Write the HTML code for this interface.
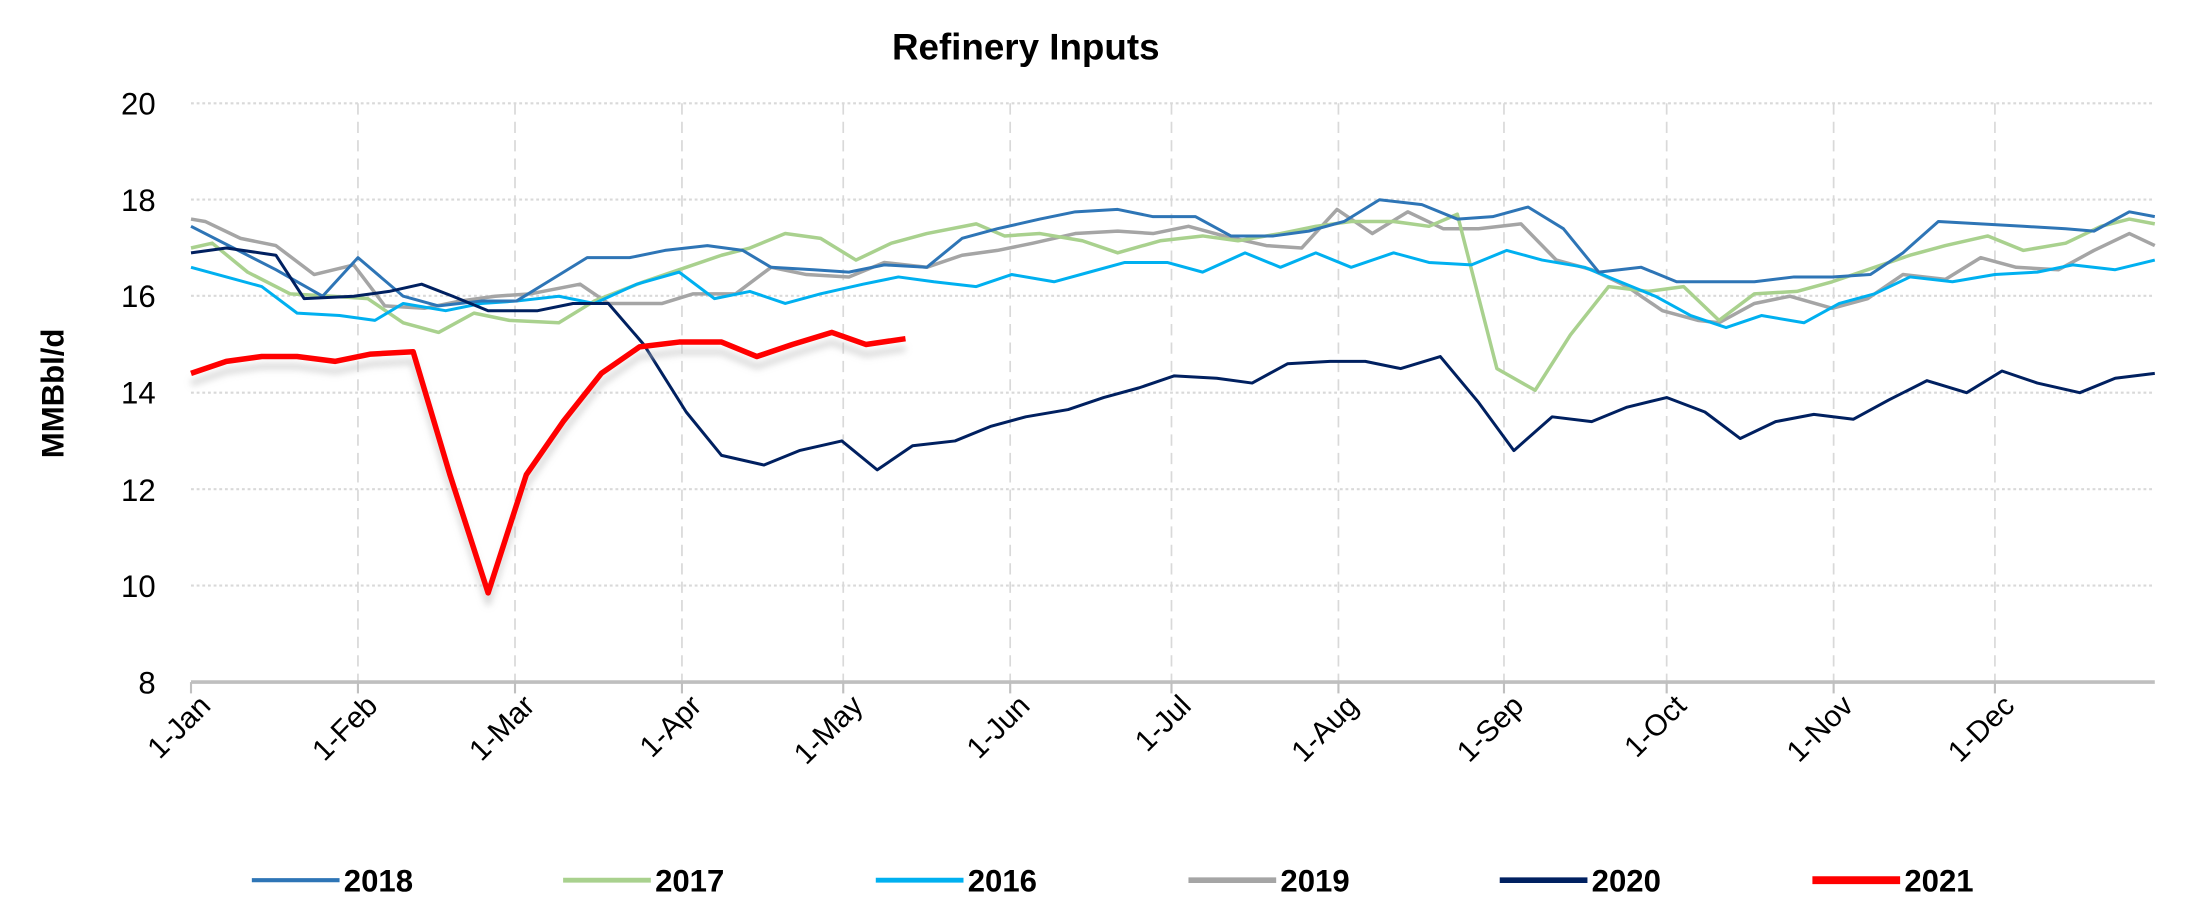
<!DOCTYPE html>
<html><head><meta charset="utf-8"><style>html,body{margin:0;padding:0;background:#fff}svg{display:block}</style></head>
<body>
<svg width="2193" height="900" viewBox="0 0 1550 636" preserveAspectRatio="none" xmlns="http://www.w3.org/2000/svg" font-family="Liberation Sans, sans-serif">
<defs><filter id="bl" x="-5%" y="-10%" width="110%" height="120%"><feGaussianBlur stdDeviation="2.5"/></filter></defs>
<text x="725" y="42" text-anchor="middle" font-size="26" font-weight="bold">Refinery Inputs</text>
<text transform="translate(45,278) rotate(-90)" text-anchor="middle" font-size="22" font-weight="bold">MMBbl/d</text>
<g stroke="#d9d9d9" stroke-width="1.5" stroke-dasharray="2,2">
<line x1="135" x2="1523" y1="73" y2="73"/><line x1="135" x2="1523" y1="141" y2="141"/><line x1="135" x2="1523" y1="209" y2="209"/><line x1="135" x2="1523" y1="277.5" y2="277.5"/><line x1="135" x2="1523" y1="345.7" y2="345.7"/><line x1="135" x2="1523" y1="413.8" y2="413.8"/>
</g>
<g stroke="#d9d9d9" stroke-width="1.2" stroke-dasharray="8,5">
<line x1="253" x2="253" y1="73" y2="482"/><line x1="364" x2="364" y1="73" y2="482"/><line x1="482" x2="482" y1="73" y2="482"/><line x1="596" x2="596" y1="73" y2="482"/><line x1="714" x2="714" y1="73" y2="482"/><line x1="828" x2="828" y1="73" y2="482"/><line x1="946" x2="946" y1="73" y2="482"/><line x1="1063" x2="1063" y1="73" y2="482"/><line x1="1178" x2="1178" y1="73" y2="482"/><line x1="1296" x2="1296" y1="73" y2="482"/><line x1="1410" x2="1410" y1="73" y2="482"/>
</g>
<line x1="135" x2="1523" y1="482" y2="482" stroke="#bfbfbf" stroke-width="2.5"/>
<g stroke="#bfbfbf" stroke-width="1.5">
<line x1="135" x2="135" y1="482" y2="490"/><line x1="253" x2="253" y1="482" y2="490"/><line x1="364" x2="364" y1="482" y2="490"/><line x1="482" x2="482" y1="482" y2="490"/><line x1="596" x2="596" y1="482" y2="490"/><line x1="714" x2="714" y1="482" y2="490"/><line x1="828" x2="828" y1="482" y2="490"/><line x1="946" x2="946" y1="482" y2="490"/><line x1="1063" x2="1063" y1="482" y2="490"/><line x1="1178" x2="1178" y1="482" y2="490"/><line x1="1296" x2="1296" y1="482" y2="490"/><line x1="1410" x2="1410" y1="482" y2="490"/>
</g>
<g font-size="22" text-anchor="end">
<text x="110" y="81">20</text><text x="110" y="149">18</text><text x="110" y="217">16</text><text x="110" y="285">14</text><text x="110" y="354">12</text><text x="110" y="422">10</text><text x="110" y="490">8</text>
</g>
<g font-size="21" text-anchor="end">
<text transform="translate(150,500) rotate(-45)">1-Jan</text>
<text transform="translate(268,500) rotate(-45)">1-Feb</text>
<text transform="translate(379,500) rotate(-45)">1-Mar</text>
<text transform="translate(497,500) rotate(-45)">1-Apr</text>
<text transform="translate(611,500) rotate(-45)">1-May</text>
<text transform="translate(729,500) rotate(-45)">1-Jun</text>
<text transform="translate(843,500) rotate(-45)">1-Jul</text>
<text transform="translate(961,500) rotate(-45)">1-Aug</text>
<text transform="translate(1078,500) rotate(-45)">1-Sep</text>
<text transform="translate(1193,500) rotate(-45)">1-Oct</text>
<text transform="translate(1311,500) rotate(-45)">1-Nov</text>
<text transform="translate(1425,500) rotate(-45)">1-Dec</text>
</g>
<g transform="matrix(1,0,0,-34.083,0,754.67)" fill="none" stroke-linejoin="round">
<polyline vector-effect="non-scaling-stroke" stroke="#a5a5a5" stroke-width="3.5" points="135,17.6 145,17.55 170,17.2 195,17.05 222,16.45 250,16.65 272,15.8 300,15.75 325,15.9 350,16.0 375,16.05 410,16.25 430,15.85 468,15.85 490,16.05 520,16.05 545,16.6 570,16.45 600,16.4 625,16.7 655,16.6 680,16.85 705,16.95 730,17.1 760,17.3 790,17.35 815,17.3 840,17.45 865,17.25 895,17.05 920,17.0 945,17.8 970,17.3 995,17.75 1020,17.4 1045,17.4 1075,17.5 1100,16.75 1125,16.55 1150,16.2 1175,15.7 1200,15.5 1215,15.45 1240,15.85 1265,16.0 1295,15.75 1320,15.95 1345,16.45 1375,16.35 1400,16.8 1425,16.6 1455,16.55 1480,16.95 1505,17.3 1523,17.05"/>
<polyline vector-effect="non-scaling-stroke" stroke="#a9d18e" stroke-width="3.5" points="135,17.0 150,17.1 175,16.5 205,16.05 235,16.0 260,15.95 285,15.45 310,15.25 335,15.65 360,15.5 395,15.45 420,15.9 455,16.3 485,16.6 510,16.85 530,17.0 555,17.3 580,17.2 605,16.75 630,17.1 655,17.3 690,17.5 710,17.25 735,17.3 765,17.15 790,16.9 820,17.15 850,17.25 875,17.15 905,17.3 930,17.45 955,17.55 985,17.55 1010,17.45 1030,17.7 1058,14.5 1085,14.05 1110,15.2 1137,16.2 1165,16.1 1190,16.2 1215,15.5 1240,16.05 1270,16.1 1295,16.3 1325,16.6 1350,16.85 1375,17.05 1405,17.25 1430,16.95 1460,17.1 1485,17.45 1505,17.6 1523,17.5"/>
<polyline vector-effect="non-scaling-stroke" stroke="#00b0f0" stroke-width="3" points="135,16.6 160,16.4 185,16.2 210,15.65 240,15.6 265,15.5 285,15.85 315,15.7 340,15.85 365,15.9 395,16.0 420,15.85 450,16.25 480,16.5 505,15.95 530,16.1 555,15.85 580,16.05 610,16.25 635,16.4 660,16.3 690,16.2 715,16.45 745,16.3 770,16.5 795,16.7 825,16.7 850,16.5 880,16.9 905,16.6 930,16.9 955,16.6 985,16.9 1010,16.7 1040,16.65 1065,16.95 1090,16.75 1120,16.6 1145,16.3 1170,16.0 1195,15.6 1220,15.35 1245,15.6 1275,15.45 1300,15.85 1325,16.05 1350,16.4 1380,16.3 1410,16.45 1440,16.5 1465,16.65 1495,16.55 1523,16.75"/>
<polyline vector-effect="non-scaling-stroke" stroke="#2e75b6" stroke-width="3" points="135,17.45 165,17.0 195,16.55 228,16.0 253,16.8 285,16.0 310,15.8 340,15.9 365,15.9 390,16.35 415,16.8 445,16.8 470,16.95 500,17.05 525,16.95 545,16.6 575,16.55 600,16.5 625,16.65 655,16.6 680,17.2 705,17.4 735,17.6 760,17.75 790,17.8 815,17.65 845,17.65 870,17.25 900,17.25 925,17.35 950,17.55 975,18.0 1005,17.9 1030,17.6 1055,17.65 1080,17.85 1105,17.4 1130,16.5 1160,16.6 1185,16.3 1215,16.3 1240,16.3 1268,16.4 1295,16.4 1322,16.45 1345,16.9 1370,17.55 1400,17.5 1430,17.45 1460,17.4 1480,17.35 1505,17.75 1523,17.65"/>
<polyline vector-effect="non-scaling-stroke" stroke="#002060" stroke-width="3" points="135,16.9 160,17.0 195,16.85 215,15.95 250,16.0 275,16.1 298,16.25 320,16.0 345,15.7 380,15.7 405,15.85 430,15.85 455,15.0 485,13.6 510,12.7 540,12.5 565,12.8 595,13.0 620,12.4 645,12.9 675,13.0 700,13.3 725,13.5 755,13.65 780,13.9 805,14.1 830,14.35 860,14.3 885,14.2 910,14.6 940,14.65 965,14.65 990,14.5 1018,14.75 1045,13.8 1070,12.8 1097,13.5 1125,13.4 1150,13.7 1178,13.9 1205,13.6 1230,13.05 1255,13.4 1282,13.55 1310,13.45 1335,13.85 1362,14.25 1390,14.0 1415,14.45 1440,14.2 1470,14.0 1495,14.3 1523,14.4"/>
</g>
<g filter="url(#bl)" opacity="0.6">
<g transform="matrix(1,0,0,-34.083,0,761.67)" fill="none" stroke-linejoin="round">
<polyline vector-effect="non-scaling-stroke" stroke="#bfbfbf" stroke-width="6" points="135,14.4 160,14.65 185,14.75 210,14.75 237,14.65 262,14.8 292,14.85 318,12.3 345,9.85 372,12.3 398,13.4 425,14.4 452,14.95 480,15.05 510,15.05 535,14.75 560,15.0 588,15.25 612,15.0 640,15.12"/>
</g></g>
<g transform="matrix(1,0,0,-34.083,0,754.67)" fill="none" stroke-linejoin="round">
<polyline vector-effect="non-scaling-stroke" stroke="#ff0000" stroke-width="5.5" points="135,14.4 160,14.65 185,14.75 210,14.75 237,14.65 262,14.8 292,14.85 318,12.3 345,9.85 372,12.3 398,13.4 425,14.4 452,14.95 480,15.05 510,15.05 535,14.75 560,15.0 588,15.25 612,15.0 640,15.12"/>
</g>
<g font-size="22" font-weight="bold">
<line x1="178" x2="240" y1="622" y2="622" stroke="#2e75b6" stroke-width="3"/><text x="243" y="630">2018</text>
<line x1="398" x2="460" y1="622" y2="622" stroke="#a9d18e" stroke-width="3.5"/><text x="463" y="630">2017</text>
<line x1="619" x2="681" y1="622" y2="622" stroke="#00b0f0" stroke-width="3.5"/><text x="684" y="630">2016</text>
<line x1="840" x2="902" y1="622" y2="622" stroke="#a5a5a5" stroke-width="4"/><text x="905" y="630">2019</text>
<line x1="1060" x2="1122" y1="622" y2="622" stroke="#002060" stroke-width="4"/><text x="1125" y="630">2020</text>
<line x1="1281" x2="1343" y1="622" y2="622" stroke="#ff0000" stroke-width="5.5"/><text x="1346" y="630">2021</text>
</g>
</svg>
</body></html>
